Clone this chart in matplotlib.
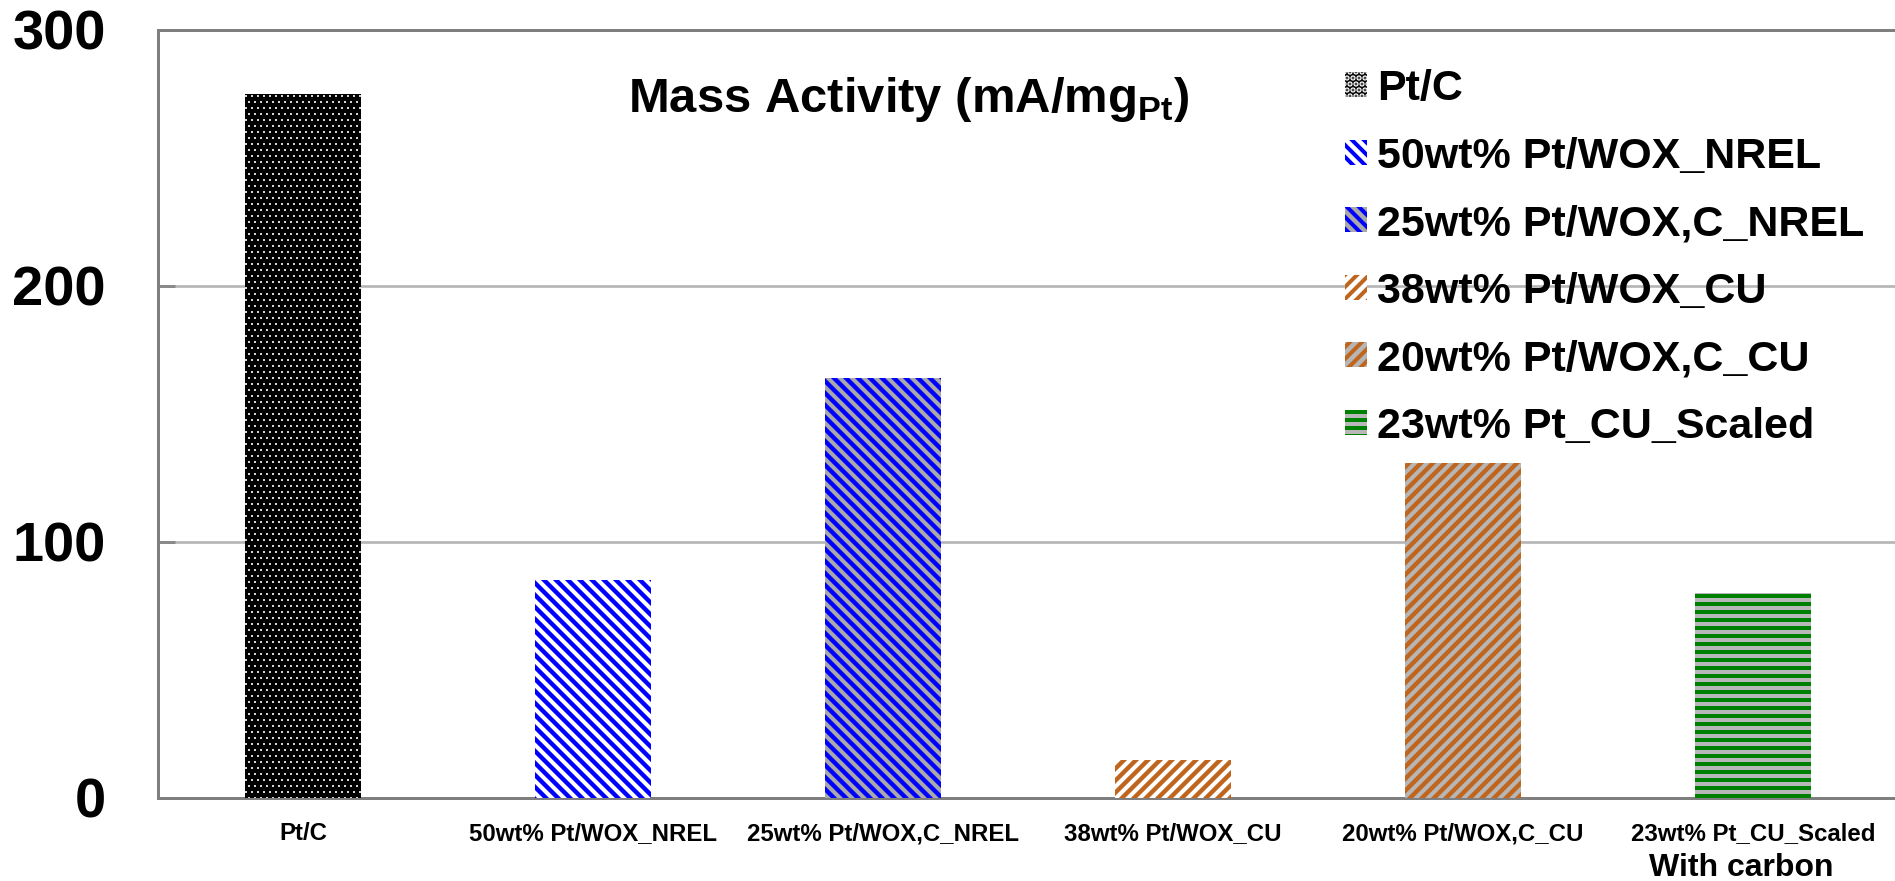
import numpy as np
import matplotlib
matplotlib.use('Agg')
import matplotlib.pyplot as plt
from matplotlib import transforms

plt.rcParams['font.family'] = ['Liberation Sans', 'DejaVu Sans']
plt.rcParams['font.weight'] = 'bold'
plt.rcParams['mathtext.fontset'] = 'custom'
plt.rcParams['mathtext.rm'] = 'Liberation Sans:bold'
plt.rcParams['mathtext.bf'] = 'Liberation Sans:bold'
plt.rcParams['hatch.linewidth'] = 2.0

# data
samples = ['Pt/C', '50wt% Pt/WOX_NREL', '25wt% Pt/WOX,C_NREL',
           '38wt% Pt/WOX_CU', '20wt% Pt/WOX,C_CU', '23wt% Pt_CU_Scaled']
mass_activity = [275, 85, 164, 15, 131, 80]
yticks = [0, 100, 200, 300]

# bar styles: face colour, hatch colour, hatch pattern, hatch width
faces = ['black', 'white', '#a9a9a9', 'white', '#b6b6b6', '#b8b8b8']
hatch_cols = ['white', '#0000ff', '#0000ff', '#bf651e', '#bf651e', '#008000']
hatches = ['....', '\\\\\\\\', '\\\\\\\\', '////', '////', '---']
hatch_lw = [0.4, 2.2, 2.2, 2.2, 2.2, 2.0]

DPI = 144
fig = plt.figure(figsize=(1895 / DPI, 881 / DPI), dpi=DPI)
ax = fig.add_axes([158 / 1895, 83 / 881, 1740 / 1895, 768 / 881])

x = np.arange(len(samples))
bars = ax.bar(x, mass_activity, width=0.403, zorder=3)
for b, fc, hc, h, hl, lab in zip(bars, faces, hatch_cols, hatches, hatch_lw, samples):
    b.set_facecolor(fc)
    b.set_edgecolor(hc)
    b.set_linewidth(0)
    b.set_hatch(h)
    if hasattr(b, 'set_hatch_linewidth'):
        b.set_hatch_linewidth(hl)
    b.set_label(lab)

ax.set_xlim(-0.5, 5.5)
ax.set_ylim(0, 300)
ax.set_yticks(yticks)
ax.set_yticklabels([str(v) for v in yticks], fontsize=28, fontweight='bold')
ax.set_xticks(x)
ax.set_xticklabels(samples, fontsize=12, fontweight='bold')
ax.tick_params(axis='x', length=0, pad=12)
ax.tick_params(axis='y', direction='in', length=8.5, width=1.5,
               color='#8a8a8a', pad=26)
ax.yaxis.grid(True, color='#b4b4b4', linewidth=1.3, zorder=0)
ax.set_axisbelow(True)
for s in ['left', 'top', 'bottom']:
    ax.spines[s].set_color('#7f7f7f')
    ax.spines[s].set_linewidth(1.5)
ax.spines['right'].set_visible(False)

trans = transforms.blended_transform_factory(ax.transData, ax.transAxes)
ax.text(x[-1] - 0.04, -0.071, 'With carbon', transform=trans, ha='center',
        va='top', fontsize=16, fontweight='bold')

fig.text(909 / 1895, 1 - 100 / 881, r'Mass Activity (mA/mg$_{\mathbf{Pt}}$)',
         ha='center', va='center', fontsize=24.5, fontweight='bold')

ax.legend(loc='upper left', bbox_to_anchor=(1345 / 1895, 1 - 69 / 881),
          bbox_transform=fig.transFigure, frameon=False, borderpad=0,
          borderaxespad=0, handlelength=0.51, handleheight=0.51,
          handletextpad=0.23, labelspacing=0.64,
          prop={'family': 'Liberation Sans', 'weight': 'bold', 'size': 21.5})

fig.savefig('out.png', dpi=DPI)
